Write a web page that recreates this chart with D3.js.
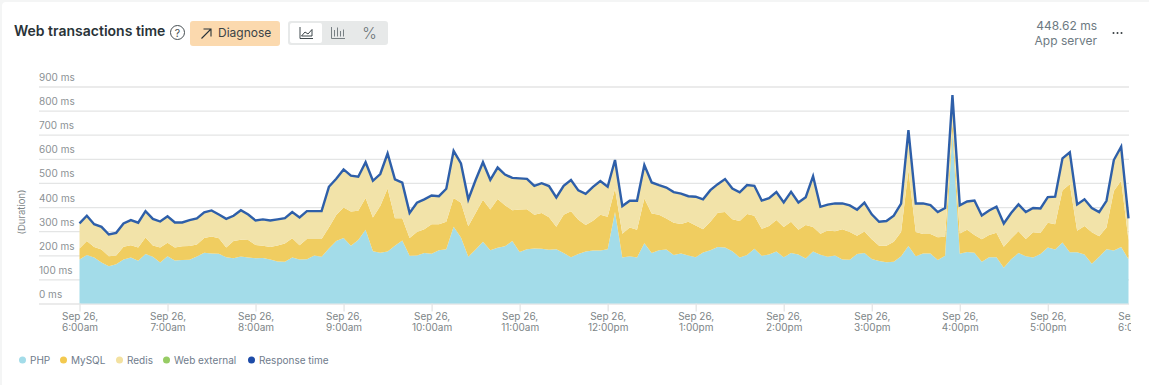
<!DOCTYPE html>
<html>
<head>
<meta charset="utf-8">
<script src="https://cdn.jsdelivr.net/npm/d3@7"></script>
<style>
    html, body { margin: 0; padding: 0; background: #f4f5f5; overflow: hidden; }
    svg { display: block; font-family: Inter, "Noto Sans", sans-serif; }
    .domain { display: none; }
</style>
</head>
<body>
<div id="chart"></div>
<script>

// one reading every 5 minutes, twelve to the row
const php = [
    183,201,191,170,155,163,183,191,177,205,194,170,
    196,178,180,181,195,210,207,206,192,188,195,191,
    188,189,183,174,173,191,183,184,199,194,228,259,
    272,239,263,306,217,210,216,239,261,198,199,209,
    206,221,225,318,274,194,224,256,221,231,237,259,
    214,225,228,227,223,225,209,192,205,216,220,220,
    225,380,191,196,191,250,209,221,224,201,207,199,
    192,212,221,234,232,217,191,201,227,198,203,216,
    192,209,203,187,216,202,194,199,183,181,205,209,
    185,176,171,173,196,238,196,207,207,180,198,712,
    206,214,210,173,192,192,148,184,209,196,191,205,
    232,224,253,213,213,203,165,194,225,220,234,184
];
const mysql = [
    45,58,43,54,41,36,52,51,55,69,47,62,
    56,54,57,57,50,62,71,65,40,71,69,72,
    55,50,51,67,76,80,59,83,68,73,87,108,
    126,143,122,132,140,194,261,115,93,74,98,99,
    123,108,114,120,144,126,151,174,169,202,170,128,
    176,166,140,148,135,93,159,191,142,110,123,148,
    135,96,98,119,115,186,164,147,129,134,123,140,
    132,96,118,142,148,132,151,170,137,112,118,130,
    125,130,103,139,101,87,109,101,125,116,76,90,
    81,64,69,83,101,315,101,81,81,95,79,42,
    84,92,74,93,92,101,87,86,91,72,105,87,
    103,105,217,282,89,118,131,85,90,247,275,79
];
const redis = [
    102,103,93,92,88,92,95,102,101,107,108,106,
    108,102,97,106,106,104,106,96,117,103,121,104,
    99,108,108,106,103,106,113,114,114,114,167,148,
    156,146,139,146,150,131,143,159,145,102,119,122,
    117,114,135,193,161,110,135,154,121,129,126,132,
    127,124,118,122,127,120,118,127,120,127,139,138,
    122,117,113,109,118,136,127,121,126,125,124,104,
    117,122,129,117,134,126,117,118,122,115,114,114,
    100,122,111,113,209,110,105,113,105,108,106,117,
    102,97,100,106,115,164,116,125,118,102,117,108,
    115,115,141,97,100,107,95,103,109,109,98,100,
    104,112,130,130,107,109,98,98,109,126,139,88
];
const webExternal = [
    2,2,2,1,2,2,2,2,2,2,2,2,
    2,2,2,2,2,2,2,2,2,2,2,2,
    2,3,2,2,2,2,2,2,2,2,2,2,
    2,3,3,2,2,2,2,2,2,2,2,2,
    2,2,2,2,2,2,2,3,2,2,3,3,
    3,3,2,2,2,3,2,2,3,3,2,2,
    2,2,2,2,2,2,2,3,3,3,2,2,
    2,3,4,4,2,2,2,2,2,3,2,2,
    2,2,2,2,2,2,3,3,2,2,2,2,
    2,2,2,2,2,2,3,3,2,2,2,2,
    4,3,2,2,2,2,3,2,2,2,2,2,
    2,2,2,2,2,2,2,2,2,2,2,2
];
const responseTime = [
    332,364,329,318,286,293,332,346,335,383,351,340,
    362,336,336,346,353,378,386,369,351,364,387,369,
    344,349,344,349,354,379,357,383,383,383,484,517,
    556,530,526,586,509,537,622,515,501,376,418,432,
    448,445,476,633,581,432,512,586,513,564,535,521,
    519,517,488,499,487,440,488,512,469,455,484,508,
    484,595,404,426,426,574,502,491,481,462,456,445,
    443,432,470,495,516,477,461,491,488,427,437,462,
    419,463,419,441,528,401,410,415,415,407,389,418,
    370,339,342,364,414,719,415,415,408,379,396,864,
    407,423,427,365,386,402,332,375,411,379,396,394,
    441,443,602,627,411,432,396,379,426,595,650,353
];

const yTicks = [0, 100, 200, 300, 400, 500, 600, 700, 800, 900];
const xTickIndex = [0, 12, 24, 36, 48, 60, 72, 84, 96, 108, 120, 132, 144];
const xTickLabels = ["6:00am", "7:00am", "8:00am", "9:00am", "10:00am", "11:00am", "12:00pm",
    "1:00pm", "2:00pm", "3:00pm", "4:00pm", "5:00pm", "6:00pm"];

const seriesNames = ["PHP", "MySQL", "Redis", "Web external"];
const seriesColors = ["#a3dce9", "#f0cd60", "#f2e3a9", "#97cc64"];
const legendNames = ["PHP", "MySQL", "Redis", "Web external", "Response time"];
const legendColors = ["#a3dce9", "#f3c94f", "#f3e1a0", "#97cc64", "#1d4ba8"];
const legendDotX = [22.5, 63.5, 119.5, 166.5, 251.5];

const width = 1149, height = 385;

const svg = d3.select("#chart").append("svg")
    .attr("width", width)
    .attr("height", height);

// card
svg.append("rect")
    .attr("x", 2).attr("y", 2)
    .attr("width", width + 10).attr("height", height + 10)
    .attr("rx", 4)
    .attr("fill", "#fff");

// scales
const x = d3.scaleLinear().domain([0, 143]).range([79.5, 1128.5]);
const y = d3.scaleLinear().domain([0, 900]).range([303.5, 86.5]);

// y axis, labels sit on top of the grid lines
const yAxisGroup = svg.append("g")
    .attr("transform", "translate(39,0)")
    .call(d3.axisLeft(y).tickValues(yTicks).tickSize(-1090).tickFormat(d => d + " ms"));

yAxisGroup.selectAll("line").attr("stroke", "#e4e5e5").attr("stroke-width", 1.3);
yAxisGroup.selectAll("text")
    .attr("x", 0).attr("dy", "-6")
    .attr("text-anchor", "start")
    .style("font-family", "Inter, sans-serif")
    .style("font-size", "10px")
    .attr("fill", "#8b9194");

// stacked areas
const rows = php.map((d, i) => ({
    i: i, "PHP": d, "MySQL": mysql[i], "Redis": redis[i], "Web external": webExternal[i]
}));
const stack = d3.stack().keys(seriesNames);
const area = d3.area()
    .x(d => x(d.data.i))
    .y0(d => y(d[0]))
    .y1(d => y(d[1]));

svg.append("g").selectAll("path")
    .data(stack(rows))
    .enter().append("path")
    .attr("d", area)
    .attr("fill", (d, i) => seriesColors[i]);

// response time line
const line = d3.line()
    .x((d, i) => x(i))
    .y(d => y(d));

svg.append("path")
    .datum(responseTime)
    .attr("d", line)
    .attr("fill", "none")
    .attr("stroke", "#2e5fa9")
    .attr("stroke-width", 2.4)
    .attr("stroke-linejoin", "miter");

// x axis, the last label runs off the plot and gets cut
// clip rect is in the axis group's own coordinates
svg.append("clipPath").attr("id", "xclip")
    .append("rect").attr("x", 0).attr("y", -2).attr("width", 1131).attr("height", 40);

const xAxisGroup = svg.append("g")
    .attr("transform", "translate(0,303.5)")
    .attr("clip-path", "url(#xclip)")
    .call(d3.axisBottom(x).tickValues(xTickIndex).tickSize(8).tickFormat(""));

xAxisGroup.selectAll("line").attr("stroke", "#e4e5e5").attr("stroke-width", 1.3);
xAxisGroup.selectAll(".tick").filter(d => d === 144).select("line").remove();

xAxisGroup.selectAll(".tick text").each(function(d, i) {
    const t = d3.select(this).text(null).attr("y", 0).attr("dy", null)
        .attr("text-anchor", "middle")
        .style("font-family", "Inter, sans-serif")
        .style("font-size", "10px")
        .attr("fill", "#7d8587");
    t.append("tspan").attr("x", 0).attr("y", 16.5).text("Sep 26,");
    t.append("tspan").attr("x", 0).attr("y", 27.5).text(xTickLabels[i]);
});

svg.append("text")
    .attr("transform", "translate(25,212) rotate(-90)")
    .attr("text-anchor", "middle")
    .attr("font-size", 9.5)
    .attr("fill", "#7d8587")
    .text("(Duration)");

// legend
const legend = svg.append("g").selectAll("g")
    .data(legendNames)
    .enter().append("g")
    .attr("transform", (d, i) => "translate(" + legendDotX[i] + ",360)");
legend.append("circle").attr("r", 3.5).attr("fill", (d, i) => legendColors[i]);
legend.append("text")
    .attr("x", 7.5).attr("y", 4)
    .attr("font-size", 10)
    .attr("fill", "#6f7c8c")
    .text(d => d);

// header
svg.append("text")
    .attr("x", 14).attr("y", 36)
    .attr("font-size", 14)
    .attr("font-weight", 600)
    .attr("fill", "#293338")
    .text("Web transactions time");

svg.append("circle")
    .attr("cx", 177.5).attr("cy", 32.5).attr("r", 7)
    .attr("fill", "none").attr("stroke", "#464e52").attr("stroke-width", 1);
svg.append("text")
    .attr("x", 177.5).attr("y", 36.5)
    .attr("text-anchor", "middle").attr("font-size", 10.5)
    .attr("fill", "#464e52")
    .text("?");

svg.append("rect")
    .attr("x", 190).attr("y", 21).attr("width", 90).attr("height", 25).attr("rx", 3)
    .attr("fill", "#fbd9ae");
svg.append("path")
    .attr("d", "M201.5 38.5L211 29M203.5 29H211V36.5")
    .attr("fill", "none").attr("stroke", "#293338").attr("stroke-width", 1.1);
svg.append("text")
    .attr("x", 218).attr("y", 37)
    .attr("font-size", 12)
    .attr("fill", "#3a4347")
    .text("Diagnose");

svg.append("rect")
    .attr("x", 288).attr("y", 21).attr("width", 100).attr("height", 24).attr("rx", 3)
    .attr("fill", "#e7e9e9");
svg.append("rect")
    .attr("x", 290).attr("y", 23).attr("width", 32).attr("height", 20).attr("rx", 2)
    .attr("fill", "#fff");
svg.append("path")
    .attr("d", "M300 27V38.5H313M301.5 36L305 32L308 34L312 29.5V36Z")
    .attr("fill", "none").attr("stroke", "#293338").attr("stroke-width", 0.9);
svg.append("path")
    .attr("d", "M331.5 27V38.5H345M334.5 36.5V30M337.5 36.5V27.5M340.5 36.5V31M343.5 36.5V29.5")
    .attr("fill", "none").attr("stroke", "#6b7478").attr("stroke-width", 0.9);
svg.append("text")
    .attr("x", 369.5).attr("y", 39)
    .attr("text-anchor", "middle").attr("font-size", 15.5).attr("font-weight", 300)
    .attr("fill", "#6b7478")
    .text("%");

svg.append("text")
    .attr("x", 1097).attr("y", 30)
    .attr("text-anchor", "end").attr("font-size", 12)
    .attr("fill", "#6d7a82")
    .text("448.62 ms");
svg.append("text")
    .attr("x", 1097).attr("y", 45)
    .attr("text-anchor", "end").attr("font-size", 12)
    .attr("fill", "#6d7a82")
    .text("App server");

svg.append("g").selectAll("circle")
    .data([1113.5, 1117.5, 1121.5])
    .enter().append("circle")
    .attr("cx", d => d).attr("cy", 33).attr("r", 1)
    .attr("fill", "#363d40");

</script>
</body>
</html>
